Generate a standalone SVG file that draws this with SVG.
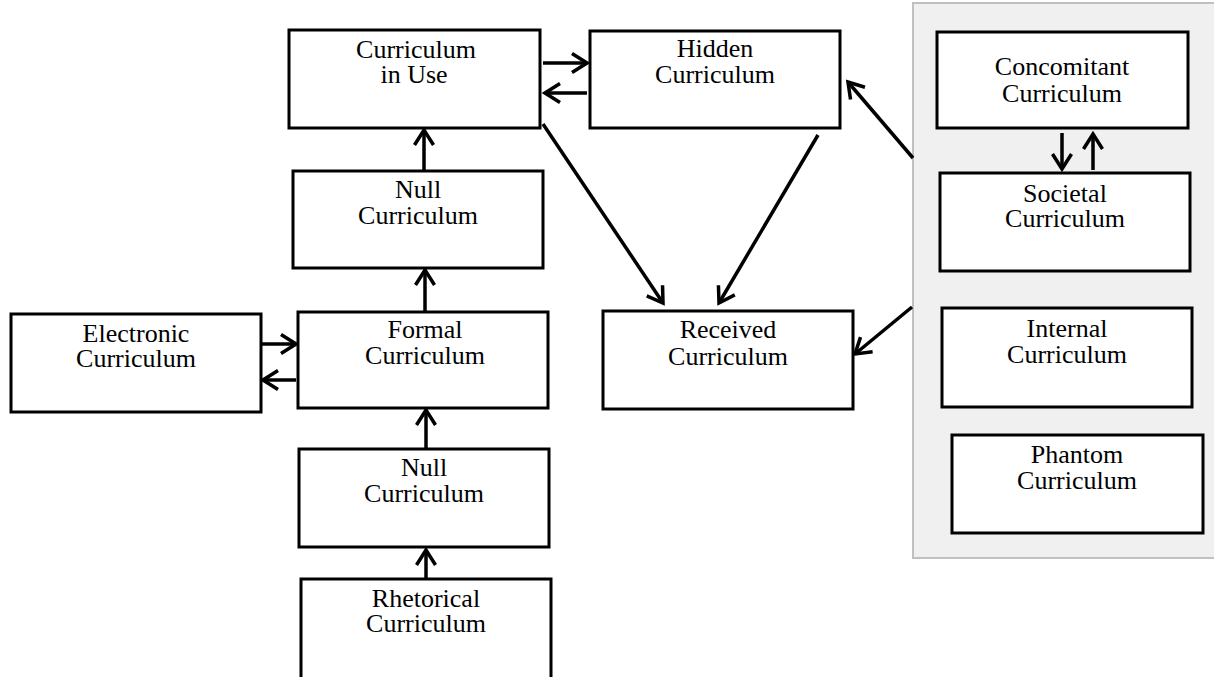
<svg xmlns="http://www.w3.org/2000/svg" width="1214" height="677" viewBox="0 0 1214 677">
<style>
.box{fill:#fff;stroke:#000;stroke-width:3}
.lbl{font-family:"Liberation Serif","Times New Roman",serif;font-size:26px;fill:#000;text-anchor:middle}
.conn{stroke:#000;stroke-width:3.5;fill:none;marker-end:url(#arr)}
</style>
<defs>
<marker id="arr" markerUnits="userSpaceOnUse" viewBox="-18 -12 21 24" refX="0" refY="0" markerWidth="21" markerHeight="24" orient="auto">
<path d="M-15,-9.5 L0,0 L-15,9.5" fill="none" stroke="#000" stroke-width="3.5"/>
</marker>
</defs>
<rect width="1214" height="677" fill="#fff"/>
<rect id="panel" x="913" y="3" width="303" height="555" fill="#f0f0f0" stroke="#c0c0c0" stroke-width="2"/>

<g id="curriculum-in-use"><rect class="box" x="289" y="30" width="251" height="98"/><text class="lbl" x="416" y="58">Curriculum</text><text class="lbl" x="414" y="83">in Use</text></g>
<g id="hidden"><rect class="box" x="590" y="31" width="250" height="97"/><text class="lbl" x="715" y="57">Hidden</text><text class="lbl" x="715" y="83">Curriculum</text></g>
<g id="null1"><rect class="box" x="293" y="171" width="250" height="97"/><text class="lbl" x="418" y="198">Null</text><text class="lbl" x="418" y="224">Curriculum</text></g>
<g id="electronic"><rect class="box" x="11" y="314" width="250" height="98"/><text class="lbl" x="136" y="342">Electronic</text><text class="lbl" x="136" y="367">Curriculum</text></g>
<g id="formal"><rect class="box" x="298" y="312" width="250" height="96"/><text class="lbl" x="425" y="338">Formal</text><text class="lbl" x="425" y="364">Curriculum</text></g>
<g id="null2"><rect class="box" x="299" y="449" width="250" height="98"/><text class="lbl" x="424" y="476">Null</text><text class="lbl" x="424" y="502">Curriculum</text></g>
<g id="rhetorical"><rect class="box" x="301" y="579" width="250" height="110"/><text class="lbl" x="426" y="607">Rhetorical</text><text class="lbl" x="426" y="632">Curriculum</text></g>
<g id="received"><rect class="box" x="603" y="311" width="250" height="98"/><text class="lbl" x="728" y="338">Received</text><text class="lbl" x="728" y="365">Curriculum</text></g>
<g id="concomitant"><rect class="box" x="937" y="32" width="251" height="96"/><text class="lbl" x="1062" y="75">Concomitant</text><text class="lbl" x="1062" y="102">Curriculum</text></g>
<g id="societal"><rect class="box" x="940" y="173" width="250" height="98"/><text class="lbl" x="1065" y="202">Societal</text><text class="lbl" x="1065" y="227">Curriculum</text></g>
<g id="internal"><rect class="box" x="942" y="308" width="250" height="99"/><text class="lbl" x="1067" y="337">Internal</text><text class="lbl" x="1067" y="363">Curriculum</text></g>
<g id="phantom"><rect class="box" x="952" y="435" width="251" height="98"/><text class="lbl" x="1077" y="463">Phantom</text><text class="lbl" x="1077" y="489">Curriculum</text></g>

<g id="connectors">
<line class="conn" x1="543" y1="63" x2="587" y2="63"/>
<line class="conn" x1="587" y1="93" x2="545" y2="93"/>
<line class="conn" x1="424" y1="171" x2="424" y2="130"/>
<line class="conn" x1="425" y1="312" x2="425" y2="270"/>
<line class="conn" x1="426" y1="449" x2="426" y2="410"/>
<line class="conn" x1="426" y1="579" x2="426" y2="550"/>
<line class="conn" x1="262" y1="344" x2="296" y2="344"/>
<line class="conn" x1="296" y1="380" x2="263" y2="380"/>
<line class="conn" x1="543" y1="124" x2="663" y2="303"/>
<line class="conn" x1="818" y1="135" x2="719" y2="303"/>
<line class="conn" x1="912" y1="307" x2="855" y2="354"/>
<line class="conn" x1="913" y1="158" x2="848" y2="82"/>
<line class="conn" x1="1062" y1="133" x2="1062" y2="169"/>
<line class="conn" x1="1093" y1="170" x2="1093" y2="134"/>
</g>
</svg>
